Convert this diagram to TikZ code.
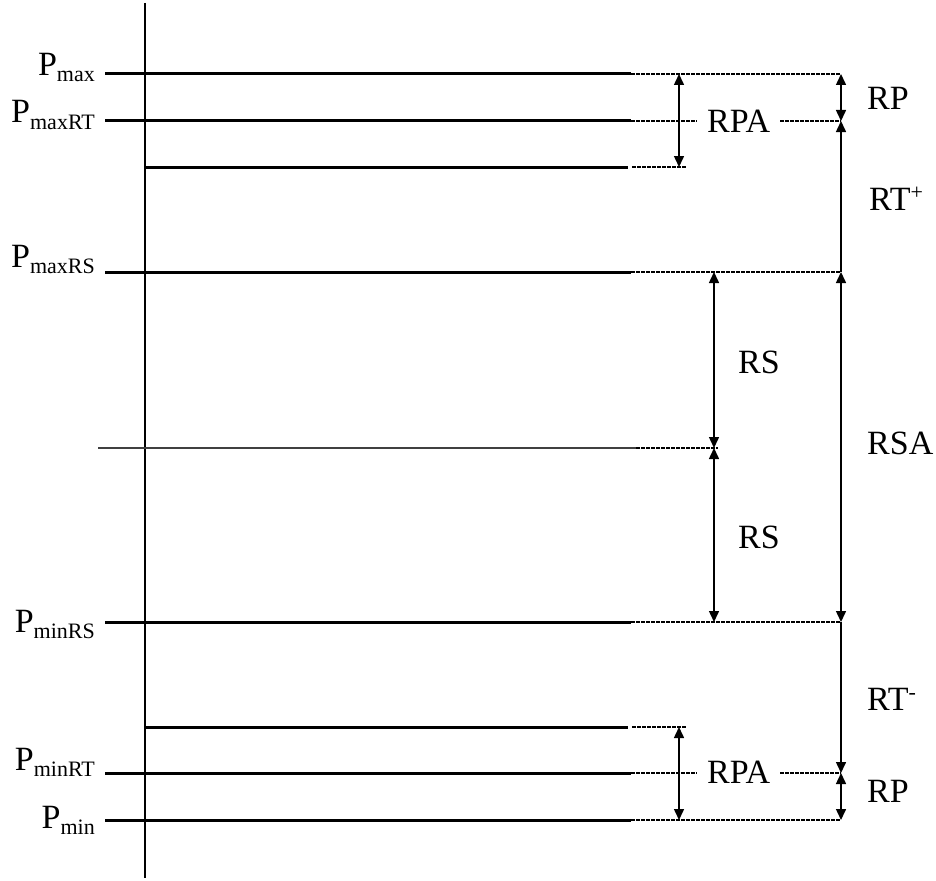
\documentclass[tikz,border=0pt]{standalone}
\usepackage{fontspec}
\setmainfont{Liberation Serif}
\usetikzlibrary{arrows.meta}
\newcommand{\Psub}[1]{P\raisebox{-6pt}{\fontsize{22}{22}\selectfont #1}}
\newcommand{\RTsup}[1]{RT\raisebox{11pt}{\fontsize{22}{22}\selectfont #1}}
\begin{document}
\begin{tikzpicture}[x=1pt,y=-1pt,
  thickline/.style={line width=3pt},
  midline/.style={line width=1.6pt, black!75},
  axisline/.style={line width=1.6pt},
  dashext/.style={line width=1.1pt, dash pattern=on 3.5pt off 1.5pt},
  dimboth/.style={line width=1.5pt, {Triangle[length=11pt,width=10pt]}-{Triangle[length=11pt,width=10pt]}},
  dimhead/.style={line width=1.5pt, -{Triangle[length=11pt,width=10pt]}},
  lab/.style={inner sep=0pt, font=\fontsize{34}{40}\selectfont},
  leftlab/.style={lab, anchor=base east},
  rightlab/.style={lab, anchor=base west}]
\useasboundingbox (0,0) rectangle (936,880);

% axis
\coordinate (axtop) at (145,3);
\coordinate (axbot) at (145,878);
\draw[axisline] (axtop) -- (axbot);

% level lines: start points
\coordinate (s1) at (105,74);
\coordinate (s2) at (105,121);
\coordinate (s3) at (146,167);
\coordinate (s4) at (105,272);
\coordinate (s5) at (98,448);
\coordinate (s6) at (105,622);
\coordinate (s7) at (146,727);
\coordinate (s8) at (105,773);
\coordinate (s9) at (105,820);
% level lines: end points
\coordinate (e1) at (631,74);
\coordinate (e2) at (631,121);
\coordinate (e3) at (628,167);
\coordinate (e4) at (631,272);
\coordinate (e5) at (636,448);
\coordinate (e6) at (631,622);
\coordinate (e7) at (628,727);
\coordinate (e8) at (631,773);
\coordinate (e9) at (631,820);

\draw[thickline] (s1) -- (e1);
\draw[thickline] (s2) -- (e2);
\draw[thickline] (s3) -- (e3);
\draw[thickline] (s4) -- (e4);
\draw[midline]   (s5) -- (e5);
\draw[thickline] (s6) -- (e6);
\draw[thickline] (s7) -- (e7);
\draw[thickline] (s8) -- (e8);
\draw[thickline] (s9) -- (e9);

% dimension columns
\coordinate (a1) at (679,74);
\coordinate (a3) at (679,167);
\coordinate (a7) at (679,727);
\coordinate (a9) at (679,820);
\coordinate (b4) at (714,272);
\coordinate (b5) at (714,448);
\coordinate (b6) at (714,622);
\coordinate (c1) at (841,74);
\coordinate (c2) at (841,121);
\coordinate (c4) at (841,272);
\coordinate (c6) at (841,622);
\coordinate (c8) at (841,773);
\coordinate (c9) at (841,820);
\coordinate (d2) at (697,121);
\coordinate (f2) at (780,121);
\coordinate (d8) at (697,773);
\coordinate (f8) at (780,773);
\coordinate (g3) at (687,167);
\coordinate (g7) at (687,727);
\coordinate (g5) at (718,448);

% dashed extensions
\draw[dashext] (e1) -- (c1);
\draw[dashext] (e2) -- (d2);
\draw[dashext] (f2) -- (c2);
\draw[dashext] (e3) ++(4,0) -- (g3);
\draw[dashext] (e4) -- (c4);
\draw[dashext] (e5) -- (g5);
\draw[dashext] (e6) -- (c6);
\draw[dashext] (e7) ++(4,0) -- (g7);
\draw[dashext] (e8) -- (d8);
\draw[dashext] (f8) -- (c8);
\draw[dashext] (e9) -- (c9);

% dimension arrows
\draw[dimboth] (a1) -- (a3);
\draw[dimboth] (a7) -- (a9);
\draw[dimboth] (b4) -- (b5);
\draw[dimboth] (b5) -- (b6);
\draw[dimboth] (c1) -- (c2);
\draw[dimhead] (c4) -- (c2);
\draw[dimboth] (c4) -- (c6);
\draw[dimhead] (c6) -- (c8);
\draw[dimboth] (c8) -- (c9);

% left labels
\node[leftlab] (pmax)   at (95,75.5)  {\Psub{max}};
\node[leftlab] (pmaxrt) at (95,123)   {\Psub{maxRT}};
\node[leftlab] (pmaxrs) at (95,267)   {\Psub{maxRS}};
\node[leftlab] (pminrs) at (95,632)   {\Psub{minRS}};
\node[leftlab] (pminrt) at (95,770)   {\Psub{minRT}};
\node[leftlab] (pmin)   at (95,828)   {\Psub{min}};

% right labels
\node[rightlab] (rpa1) at (707,132) {RPA};
\node[rightlab] (rp1)  at (867,110) {RP};
\node[rightlab] (rtp)  at (869,210) {\RTsup{+}};
\node[rightlab] (rs1)  at (738,373) {RS};
\node[rightlab] (rsa)  at (867,454) {RSA};
\node[rightlab] (rs2)  at (738,548) {RS};
\node[rightlab] (rtm)  at (867,710) {\RTsup{-}};
\node[rightlab] (rpa2) at (707,783) {RPA};
\node[rightlab] (rp2)  at (867,802) {RP};
\end{tikzpicture}
\end{document}
